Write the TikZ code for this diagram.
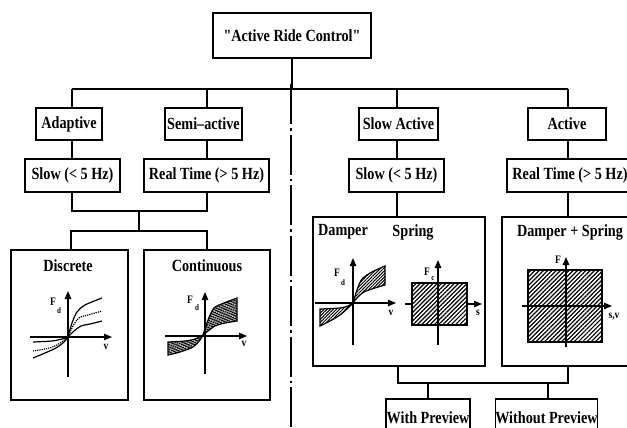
\documentclass[tikz,border=0pt]{standalone}
\usepackage{fontspec}
\usepackage{graphicx}
\newfontfamily\lbl{Liberation Serif}
\newcommand{\stt}[1]{\scalebox{1}[1.2]{#1}}
\usetikzlibrary{arrows.meta,patterns.meta}
\begin{document}
\begin{tikzpicture}[x=1pt,y=-1pt,
  box/.style={draw,line width=1.2pt,inner sep=0pt,font=\lbl\bfseries\fontsize{14.2}{16}\selectfont},
  bigbox/.style={draw,line width=1.2pt,inner sep=0pt},
  ttl/.style={inner sep=0pt,font=\lbl\bfseries\fontsize{14.2}{16}\selectfont},
  conn/.style={line width=1.3pt},
  axis/.style={line width=1.3pt,-{Triangle[length=8pt,width=6.5pt]}},
  crv/.style={line width=1.2pt},
  sml/.style={inner sep=0pt,font=\lbl\bfseries\fontsize{9.5}{10}\selectfont},
  tiny/.style={inner sep=0pt,font=\lbl\bfseries\fontsize{7}{7}\selectfont},
  sqhatch/.style={pattern={Lines[angle=45,distance=3pt,line width=1.2pt]}},
  bandhatch/.style={pattern={Lines[angle=45,distance=2.2pt,line width=1pt]}},
  densehatch/.style={pattern={Lines[angle=15,distance=1.6pt,line width=1pt]}}]
\useasboundingbox (0,0) rectangle (627,428);
\clip (0,0) rectangle (627,428);

% ---------- boxes ----------
\node[box,minimum width=158pt,minimum height=45pt] (top) at (292,35.5) {\stt{"Active Ride Control"}};
\node[box,minimum width=66pt,minimum height=32pt] (adaptive) at (69,124) {\stt{Adaptive}};
\node[box,minimum width=77pt,minimum height=32pt] (semi) at (203.5,124) {\stt{Semi–active}};
\node[box,minimum width=95pt,minimum height=33pt] (slowL) at (72.5,175.5) {\stt{Slow (< 5 Hz)}};
\node[box,minimum width=125pt,minimum height=33pt] (rtL) at (206.5,175.5) {\stt{Real Time (> 5 Hz)}};
\node[bigbox,minimum width=117pt,minimum height=150pt] (disc) at (69.5,325) {};
\node[bigbox,minimum width=126pt,minimum height=150pt] (cont) at (207,325) {};

\node[box,minimum width=79pt,minimum height=32pt] (slowact) at (398.5,124) {\stt{Slow Active}};
\node[box,minimum width=78pt,minimum height=32pt] (active) at (567,124) {\stt{Active}};
\node[box,minimum width=95pt,minimum height=33pt] (slowR) at (396.5,175.5) {\stt{Slow (< 5 Hz)}};
\node[box,minimum width=126pt,minimum height=33pt] (rtR) at (570,175.5) {\stt{Real Time (> 5 Hz)}};
\node[bigbox,minimum width=172pt,minimum height=149pt] (damp) at (399,291.5) {};
\node[bigbox,minimum width=138pt,minimum height=149pt] (ds) at (571,291.5) {};
\node[box,minimum width=84pt,minimum height=38pt] (withp) at (428,418) {\stt{With Preview}};
\node[box,minimum width=101pt,minimum height=38pt] (withoutp) at (546.5,418) {\stt{Without Preview}};

% ---------- titles in big boxes ----------
\node[ttl] (tdisc) at (68,266) {\stt{Discrete}};
\node[ttl] (tcont) at (207,266) {\stt{Continuous}};
\node[ttl] (tdamp) at (343,232) {\stt{Damper}};
\node[ttl] (tspr) at (413,232) {\stt{Spring}};
\node[ttl] (tds) at (570,232) {\stt{Damper + Spring}};

% ---------- connectors ----------
\coordinate (hL) at (72,89);
\coordinate (hS) at (207,89);
\coordinate (hD) at (291,89);
\coordinate (hSA) at (397,89);
\coordinate (hR) at (568,89);
\coordinate (dashEnd) at (291,430);
\draw[conn] (top.south) -- (top.south |- hL);
\draw[conn] (hL) -- (hR);
\draw[conn] (hL) -- (hL |- adaptive.north);
\draw[conn] (hS) -- (hS |- semi.north);
\draw[conn] (hSA) -- (hSA |- slowact.north);
\draw[conn] (hR) -- (hR |- active.north);
\draw[conn] (adaptive.south -| hL) -- (slowL.north -| hL);
\draw[conn] (semi.south -| hS) -- (rtL.north -| hS);
\draw[conn] (slowact.south -| hSA) -- (slowR.north -| hSA);
\draw[conn] (active.south -| hR) -- (rtR.north -| hR);
\draw[line width=1.3pt,dash pattern=on 40pt off 4pt on 2.5pt off 4pt] ([yshift=5pt]hD) -- (dashEnd);

% left lower tree
\coordinate (j1L) at (72,211);
\coordinate (j1R) at (207,211);
\coordinate (j1M) at (139,211);
\coordinate (j2M) at (139,231);
\coordinate (j2L) at (71,231);
\coordinate (j2R) at (207,231);
\draw[conn] (slowL.south -| j1L) -- (j1L) -- (j1R) -- (rtL.south -| j1R);
\draw[conn] (j1M) -- (j2M);
\draw[conn] (disc.north -| j2L) -- (j2L) -- (j2R) -- (cont.north -| j2R);

% right trees
\draw[conn] (slowR.south -| hSA) -- (damp.north -| hSA);
\draw[conn] (rtR.south -| hR) -- (ds.north -| hR);
\coordinate (j3L) at (398,383);
\coordinate (j3R) at (568,383);
\coordinate (j3a) at (428,383);
\coordinate (j3b) at (548,383);
\draw[conn] (damp.south -| j3L) -- (j3L) -- (j3R) -- (ds.south -| j3R);
\draw[conn] (j3a) -- (withp.north -| j3a);
\draw[conn] (j3b) -- (withoutp.north -| j3b);

% ---------- Discrete plot ----------
\draw[axis] (30,337) -- (112,337);
\draw[axis] (68,377) -- (68,291);
\draw[crv] plot[smooth] coordinates {(68,337) (72,323) (77,312) (85,305) (102,298)};
\draw[crv,densely dotted] plot[smooth] coordinates {(68,337) (73,326) (79,318) (88,315) (102,311)};
\draw[crv] plot[smooth] coordinates {(68,337) (74,331) (81,326) (90,324) (102,321)};
\draw[crv] plot[smooth] coordinates {(68,337) (62,339) (52,341) (33,342)};
\draw[crv,densely dotted] plot[smooth] coordinates {(68,337) (63,341) (55,346) (45,349) (33,351)};
\draw[crv] plot[smooth] coordinates {(68,337) (64,342) (56,348) (45,353) (33,358)};
\node[sml] (fdisc) at (53,302) {\stt{F}};
\node[tiny] (fdiscs) at (59,311) {\stt{d}};
\node[sml] (vdisc) at (106,347) {\stt{v}};

% ---------- Continuous plot ----------
\draw[crv,densehatch] plot[smooth] coordinates {(203,335) (208,320) (214,308) (224,303) (237,298)}
  -- plot[smooth] coordinates {(237,321) (225,323) (215,326) (208,331) (203,335)} -- cycle;
\draw[crv,densehatch] plot[smooth] coordinates {(203,335) (195,339) (185,341) (168,342)}
  -- plot[smooth] coordinates {(168,355) (180,352) (193,347) (200,340) (203,335)} -- cycle;
\draw[axis] (165,336) -- (247,336);
\draw[axis] (205,374) -- (205,292);
\node[sml] (fcont) at (190,300) {\stt{F}};
\node[tiny] (fconts) at (197,308) {\stt{d}};
\node[sml] (vcont) at (244,344) {\stt{v}};

% ---------- Damper plot ----------
\draw[crv,bandhatch] plot[smooth] coordinates {(353,303) (357,290) (362,279) (372,272) (385,266)}
  -- plot[smooth] coordinates {(385,285) (375,288) (364,292) (357,298) (353,303)} -- cycle;
\draw[crv,bandhatch] plot[smooth] coordinates {(353,303) (348,306) (340,308) (320,309)}
  -- plot[smooth] coordinates {(320,326) (330,321) (340,315) (348,308) (353,303)} -- cycle;
\draw[axis] (315,303) -- (396,303);
\draw[axis] (353,345) -- (353,258);
\node[sml] (fdamp) at (337,273) {\stt{F}};
\node[tiny] (fdamps) at (343,283) {\stt{d}};
\node[sml] (vdamp) at (391,313) {\stt{v}};

% ---------- Spring plot ----------
\draw[axis] (405,304) -- (482,304);
\draw[crv,fill=white] (412,283) rectangle (467,325);
\draw[crv,sqhatch] (412,283) rectangle (467,325);
\draw[axis] (438,345) -- (438,260);
\node[sml] (fspr) at (427,272) {\stt{F}};
\node[tiny] (fsprs) at (433,279) {\stt{c}};
\node[sml] (sspr) at (478,313) {\stt{s}};

% ---------- Damper + Spring plot ----------
\draw[crv,sqhatch] (528,270) rectangle (602,342);
\draw[axis] (522,306) -- (612,306);
\draw[axis] (566,347) -- (566,257);
\node[sml] (fds) at (558,260) {\stt{F}};
\node[sml] (sds) at (614,317) {\stt{s,v}};
\end{tikzpicture}
\end{document}
